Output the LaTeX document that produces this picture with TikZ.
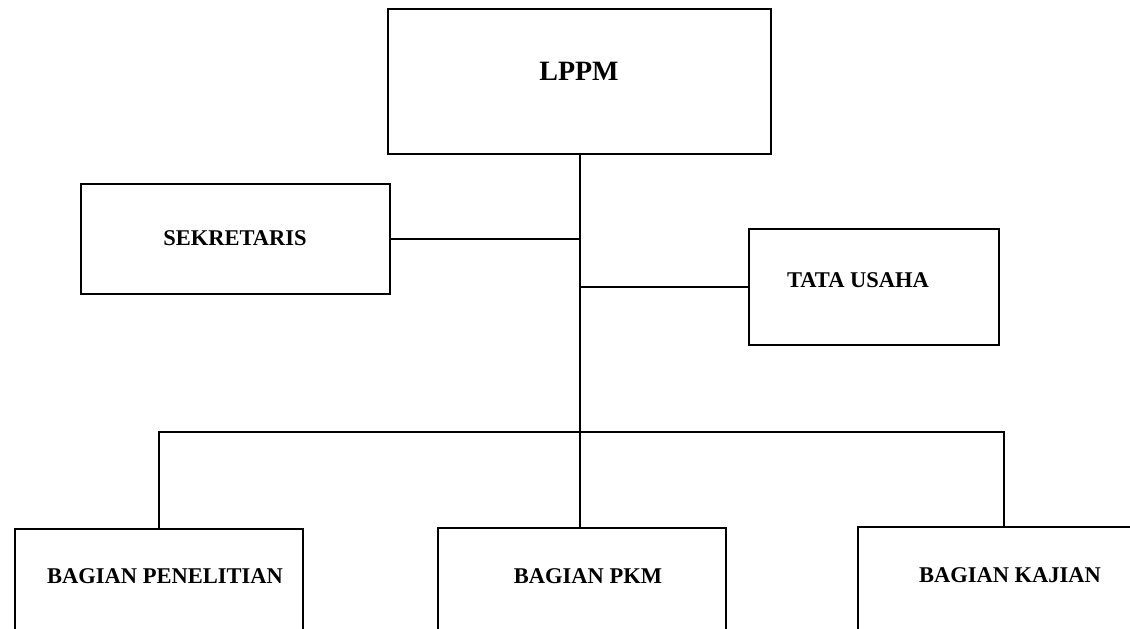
\documentclass[tikz,border=0pt]{standalone}
\usepackage{fontspec}
\setmainfont{Liberation Serif}
\begin{document}
\begin{tikzpicture}[x=1pt,y=-1pt,
  unit/.style={draw=black, line width=1.6pt, rectangle, inner sep=0pt},
  lbl/.style={anchor=base, inner sep=0pt, font=\fontsize{22.5}{27}\selectfont\bfseries},
  biglbl/.style={anchor=base, inner sep=0pt, font=\fontsize{28}{33}\selectfont\bfseries},
  link/.style={draw=black, line width=1.6pt}]
\clip (0,0) rectangle (1130,629);
\fill[white] (0,0) rectangle (1130,629);

% boxes (the bottom row runs past the lower edge of the sheet)
\node[unit, minimum width=383pt, minimum height=145pt] (lppm) at (579.5,81.5) {};
\node[unit, minimum width=309pt, minimum height=110pt] (sek) at (235.5,239) {};
\node[unit, minimum width=250pt, minimum height=116pt] (tu) at (874,287) {};
\node[unit, minimum width=288pt, minimum height=106pt] (pen) at (159,582) {};
\node[unit, minimum width=288pt, minimum height=107pt] (pkm) at (582,581.5) {};
\node[unit, minimum width=292pt, minimum height=108pt] (kaj) at (1004,581) {};

% labels
\node[biglbl] (lppm-t) at (579,80) {LPPM};
\node[lbl] (sek-t) at (235,245) {SEKRETARIS};
\node[lbl] (tu-t) at (858,287) {TATA USAHA};
\node[lbl] (pen-t) at (165,583) {BAGIAN PENELITIAN};
\node[lbl] (pkm-t) at (588,583) {BAGIAN PKM};
\node[lbl] (kaj-t) at (1010,582) {BAGIAN KAJIAN};

% connectors
\coordinate (bus) at (580,432);
\draw[link] (lppm.south -| bus) -- (pkm.north -| bus);
\draw[link] (sek.east) -- (sek.east -| bus);
\draw[link] (tu.west) -- (tu.west -| bus);
\draw[link] (pen.north) -- (pen.north |- bus) -- (kaj.north |- bus) -- (kaj.north);
\end{tikzpicture}
\end{document}
